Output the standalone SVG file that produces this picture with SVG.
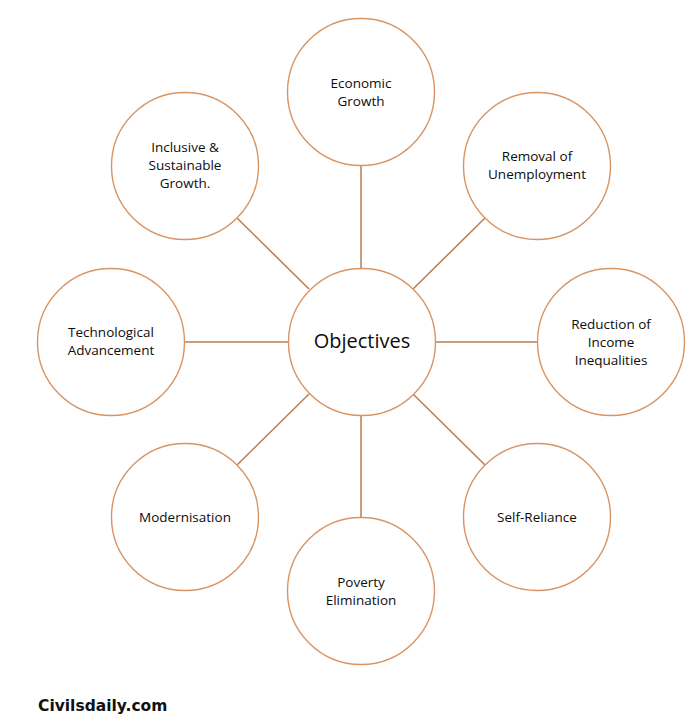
<svg xmlns="http://www.w3.org/2000/svg" width="700" height="725" viewBox="0 0 700 725">
<style>
.c{fill:#fff;stroke:#DA9463;stroke-width:1.4}
.l{stroke:#B97C50;stroke-width:1.5}
.t{font-family:"Open Sans","Liberation Sans",sans-serif;font-size:13.5px;fill:#0d0d0d;text-anchor:middle}
.big{font-size:20px}
.wm{font-family:"DejaVu Sans",sans-serif;font-weight:bold;font-size:15.5px;fill:#111}
</style>
<rect width="700" height="725" fill="#fff"/>
<g id="connectors">
<line class="l" x1="361" y1="166" x2="361" y2="268"/>
<line class="l" x1="361" y1="415" x2="361" y2="517"/>
<line class="l" x1="185" y1="342" x2="288" y2="342"/>
<line class="l" x1="435" y1="342" x2="537" y2="342"/>
<line class="l" x1="237" y1="218" x2="309" y2="289"/>
<line class="l" x1="485" y1="218" x2="413" y2="289"/>
<line class="l" x1="237" y1="465" x2="309" y2="394"/>
<line class="l" x1="485" y1="465" x2="413" y2="394"/>
</g>
<g id="objectives"><circle class="c" cx="362" cy="342" r="73.5"/><text class="t big" x="362" y="348">Objectives</text></g>
<g id="economic-growth"><circle class="c" cx="361" cy="92" r="73.5"/><text class="t" x="361" y="88">Economic</text><text class="t" x="361" y="106">Growth</text></g>
<g id="removal-unemployment"><circle class="c" cx="537" cy="166" r="73.5"/><text class="t" x="537" y="161">Removal of</text><text class="t" x="537" y="179">Unemployment</text></g>
<g id="reduction-income"><circle class="c" cx="611" cy="342" r="73.5"/><text class="t" x="611" y="329">Reduction of</text><text class="t" x="611" y="347">Income</text><text class="t" x="611" y="365">Inequalities</text></g>
<g id="self-reliance"><circle class="c" cx="537" cy="517" r="73.5"/><text class="t" x="537" y="522">Self-Reliance</text></g>
<g id="poverty-elimination"><circle class="c" cx="361" cy="591" r="73.5"/><text class="t" x="361" y="587">Poverty</text><text class="t" x="361" y="605">Elimination</text></g>
<g id="modernisation"><circle class="c" cx="185" cy="517" r="73.5"/><text class="t" x="185" y="522">Modernisation</text></g>
<g id="technological"><circle class="c" cx="111" cy="342" r="73.5"/><text class="t" x="111" y="337">Technological</text><text class="t" x="111" y="355">Advancement</text></g>
<g id="inclusive"><circle class="c" cx="185" cy="166" r="73.5"/><text class="t" x="185" y="152">Inclusive &amp;</text><text class="t" x="185" y="170">Sustainable</text><text class="t" x="185" y="188">Growth.</text></g>
<text class="wm" x="38" y="711">Civilsdaily.com</text>
</svg>
